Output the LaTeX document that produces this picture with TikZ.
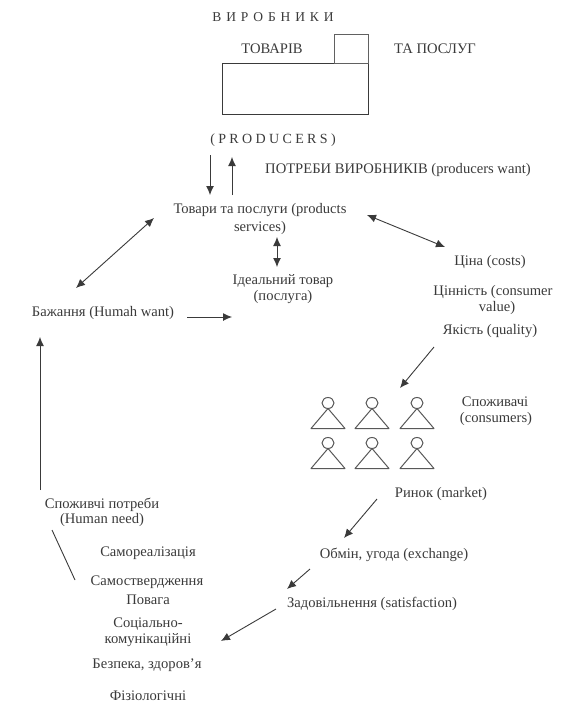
\documentclass[tikz,border=0pt]{standalone}
\usepackage{fontspec}
\setmainfont{Liberation Serif}
\newfontfamily\spaced[LetterSpace=24]{Liberation Serif}
\newfontfamily\spacedwide[LetterSpace=36]{Liberation Serif}
\usetikzlibrary{arrows.meta}
\definecolor{ink}{HTML}{3A3A3A}
\tikzset{
  lbl/.style={inner sep=0pt,yshift=-1.5pt,text=ink,font=\fontsize{14.6}{16}\selectfont,align=center},
  conn/.style={draw=ink,line width=0.9pt,-{Latex[length=9pt,width=8pt]}},
  dbl/.style={draw=ink,line width=0.9pt,{Latex[length=9pt,width=8pt]}-{Latex[length=9pt,width=8pt]}},
  plain/.style={draw=ink,line width=0.9pt},
  shapeline/.style={draw=ink!85,line width=1pt},
}
\begin{document}
\begin{tikzpicture}[x=1pt,y=-1pt]
\useasboundingbox (0,0) rectangle (570,707);
% labels
\node[lbl,font=\fontsize{13.5}{16}\selectfont\spacedwide] (makers) at (273,16) {ВИРОБНИКИ};
\node[lbl] (goodsT) at (272,47) {ТОВАРІВ};
\node[lbl] (svc) at (435,47) {ТА ПОСЛУГ};
\node[lbl,font=\fontsize{14}{16}\selectfont\spaced] (prodr) at (273,139) {(PRODUCERS)};
\node[lbl] (wants) at (398,168) {ПОТРЕБИ ВИРОБНИКІВ (producers want)};
\node[lbl] (goods1) at (260,209) {Товари та послуги (products};
\node[lbl] (goods2) at (260,226) {services)};
\node[lbl] (ideal1) at (283,280) {Ідеальний товар};
\node[lbl] (ideal2) at (283,296) {(послуга)};
\node[lbl] (desire) at (103,311) {Бажання (Humah want)};
\node[lbl] (cost) at (490,260) {Ціна (costs)};
\node[lbl] (val1) at (493,290) {Цінність (consumer};
\node[lbl] (val2) at (497,306) {value)};
\node[lbl] (qual) at (490,330) {Якість (quality)};
\node[lbl] (cons1) at (495,400) {Споживачі};
\node[lbl] (cons2) at (496,417) {(consumers)};
\node[lbl] (market) at (441,492) {Ринок (market)};
\node[lbl] (exch) at (394,553) {Обмін, угода (exchange)};
\node[lbl] (sat) at (372,602) {Задовільнення (satisfaction)};
\node[lbl] (need1) at (102,503) {Споживчі потреби};
\node[lbl] (need2) at (102,518) {(Human need)};
\node[lbl] (lv1) at (148,552) {Самореалізація};
\node[lbl] (lv2) at (147,581) {Самоствердження};
\node[lbl] (lv3) at (148,598) {Повага};
\node[lbl] (lv4) at (148,623) {Соціально-};
\node[lbl] (lv5) at (148,639) {комунікаційні};
\node[lbl] (lv6) at (147,664) {Безпека, здоров'я};
\node[lbl] (lv7) at (148,694) {Фізіологічні};
% producers building
\node[draw=ink,line width=1pt,minimum width=146pt,minimum height=51pt,inner sep=0pt] (hall) at (295,88.5) {};
\node[draw=ink!80,line width=1pt,minimum width=34pt,minimum height=29pt,inner sep=0pt] (tower) at (351,48.5) {};
% connector ends
\coordinate (a1) at (210,155); \coordinate (a2) at (210,195);
\coordinate (b1) at (232,195); \coordinate (b2) at (232,157);
\coordinate (c1) at (367,215); \coordinate (c2) at (445,247);
\coordinate (d1) at (277,237); \coordinate (d2) at (277,267);
\coordinate (e1) at (154,218); \coordinate (e2) at (76,288);
\coordinate (f1) at (187,317); \coordinate (f2) at (232,317);
\coordinate (g1) at (434,347); \coordinate (g2) at (400,388);
\coordinate (h1) at (377,499); \coordinate (h2) at (344,538);
\coordinate (i1) at (310,569); \coordinate (i2) at (287,589);
\coordinate (j1) at (276,609); \coordinate (j2) at (221,641);
\coordinate (k1) at (40,490); \coordinate (k2) at (40,337);
\coordinate (l1) at (52,530); \coordinate (l2) at (75,580);
\draw[conn] (a1) -- (a2);
\draw[conn] (b1) -- (b2);
\draw[dbl] (c1) -- (c2);
\draw[dbl] (d1) -- (d2);
\draw[dbl] (e1) -- (e2);
\draw[conn] (f1) -- (f2);
\draw[conn] (g1) -- (g2);
\draw[conn] (h1) -- (h2);
\draw[conn] (i1) -- (i2);
\draw[conn] (j1) -- (j2);
\draw[conn] (k1) -- (k2);
\draw[plain] (l1) -- (l2);
% consumers
\foreach \cx/\hy in {328/403,372/403,417/403,328/443,372/443,417/443}{
  \draw[shapeline] (\cx,\hy) ellipse [x radius=6pt,y radius=5.5pt];
  \draw[shapeline,line join=round] (\cx,\hy+5.5) -- (\cx-17,\hy+25.5) -- (\cx+17,\hy+25.5) -- cycle;
}
\end{tikzpicture}
\end{document}
